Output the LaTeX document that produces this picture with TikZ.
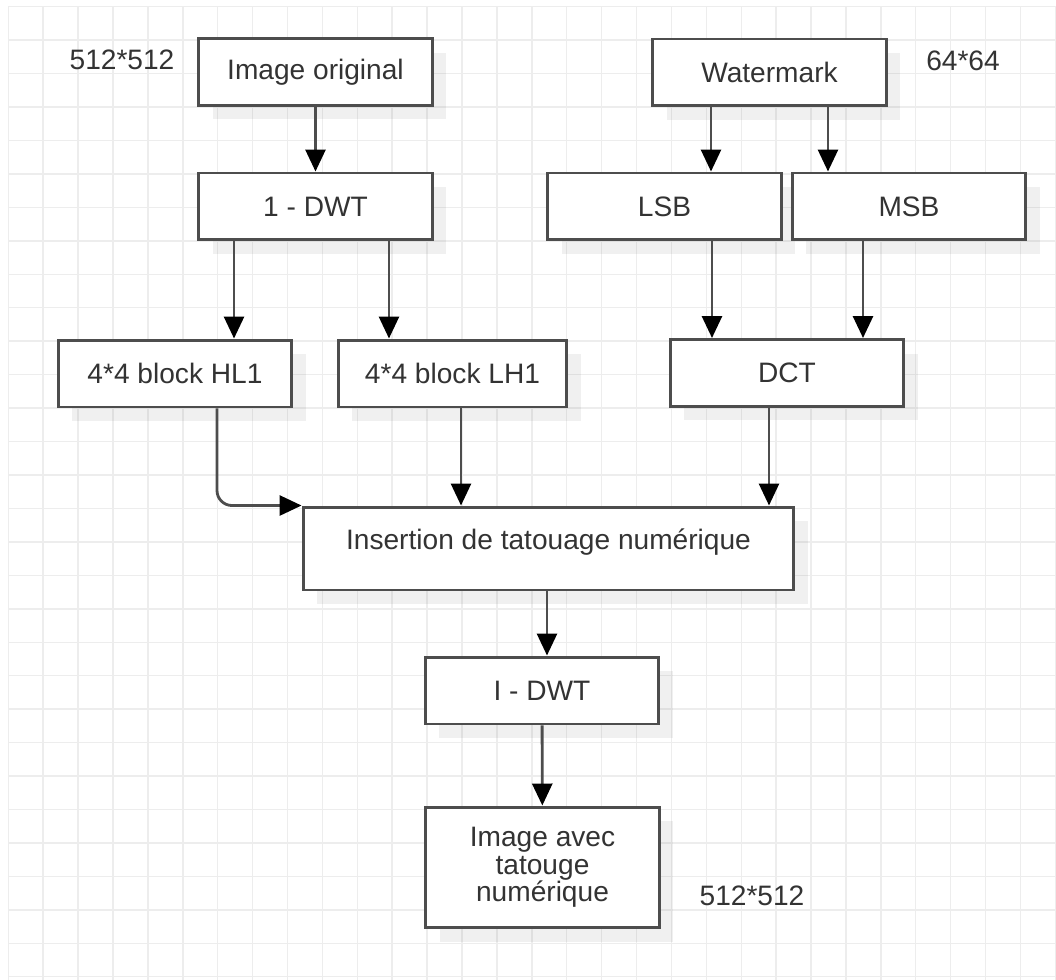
\documentclass[tikz,border=0pt]{standalone}
\usepackage{fontspec}
\setmainfont{Liberation Sans}
\usetikzlibrary{arrows.meta,shadows}
\definecolor{GridGray}{HTML}{EDEDED}
\definecolor{LineGray}{HTML}{4D4D4D}
\definecolor{TextGray}{HTML}{333333}

\begin{document}
\begin{tikzpicture}[x=0.02cm,y=-0.02cm,
  blk/.style={rectangle,draw=LineGray,line width=1.7pt,fill=white,minimum width=4.68cm,minimum height=1.34cm,inner sep=0pt,text=TextGray,font=\fontsize{16}{15.6}\selectfont,align=center,drop shadow={shadow xshift=0.28cm,shadow yshift=-0.28cm,fill=black,opacity=0.06}},
  lbl/.style={text=TextGray,font=\fontsize{16}{15.6}\selectfont,inner sep=0pt},
  arr/.style={draw=LineGray,line width=1.6pt,-{Triangle[length=0.44cm,width=0.4cm,color=black]}}
]
  \useasboundingbox (0,0) rectangle (1056,980);
  % grid
  \foreach \i in {0,...,30} \draw[GridGray,line width=0.8pt] ({8.3+34.9*\i},6.7) -- ({8.3+34.9*\i},980);
  \foreach \j in {0,...,29} \draw[GridGray,line width=0.8pt] (8.3,{6.7+33.45*\j}) -- (1056,{6.7+33.45*\j});

  \node[blk] (orig) at (315.5,72) {Image original};
  \node[blk] (wm) at (769.5,72.5) {Watermark};
  \node[blk] (dwt) at (315.5,206.5) {1 - DWT};
  \node[blk] (lsb) at (664.5,206.5) {LSB};
  \node[blk] (msb) at (909,206.5) {MSB};
  \node[blk] (hl) at (175,373.5) {4*4 block HL1};
  \node[blk,minimum width=4.58cm] (lh) at (452.5,373.5) {4*4 block LH1};
  \node[blk] (dct) at (787,373) {DCT};
  \node[blk,minimum width=9.82cm,minimum height=1.66cm,text depth=0.38cm] (ins) at (548.5,548.5) {Insertion de tatouage numérique};
  \node[blk] (idwt) at (542,690.5) {I - DWT};
  \node[blk,minimum height=2.42cm] (out) at (542.5,867.5) {Image avec\\tatouge\\numérique};

  \node[lbl] (sz1) at (122,60) {512*512};
  \node[lbl] (sz2) at (963,61) {64*64};
  \node[lbl] (sz3) at (752,895.5) {512*512};

  \draw[arr] (orig) -- (dwt);
  \draw[arr] ([xshift=-1.63cm]dwt.south) -- ([xshift=-1.63cm]dwt.south |- hl.north);
  \draw[arr] ([xshift=1.47cm]dwt.south) -- ([xshift=1.47cm]dwt.south |- lh.north);
  \draw[arr] ([xshift=-1.17cm]wm.south) -- ([xshift=-1.17cm]wm.south |- lsb.north);
  \draw[arr] ([xshift=1.17cm]wm.south) -- ([xshift=1.17cm]wm.south |- msb.north);
  \draw[arr] ([xshift=0.95cm]lsb.south) -- ([xshift=0.95cm]lsb.south |- dct.north);
  \draw[arr] ([xshift=-0.92cm]msb.south) -- ([xshift=-0.92cm]msb.south |- dct.north);
  \draw[arr,rounded corners=0.3cm] ([xshift=0.84cm]hl.south) |- (ins.north west);
  \draw[arr] ([xshift=0.17cm]lh.south) -- ([xshift=0.17cm]lh.south |- ins.north);
  \draw[arr] ([xshift=-0.36cm]dct.south) -- ([xshift=-0.36cm]dct.south |- ins.north);
  \draw[arr] ([xshift=-0.03cm]ins.south) -- ([xshift=-0.03cm]ins.south |- idwt.north);
  \draw[arr] (idwt) -- (out);
\end{tikzpicture}
\end{document}
